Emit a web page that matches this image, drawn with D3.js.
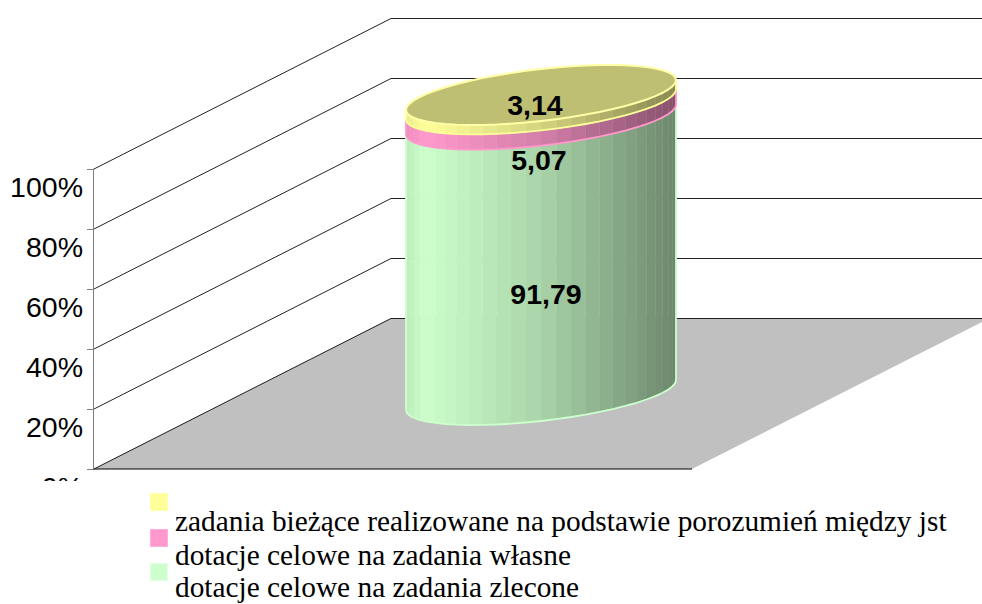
<!DOCTYPE html>
<html lang="pl"><head><meta charset="utf-8">
<style>html,body{margin:0;padding:0;background:#fff}svg{display:block}</style>
<script src="https://cdn.jsdelivr.net/npm/d3@7"></script></head><body>
<svg id="c" width="982" height="604"></svg>
<script>
const seriesNames = ["dotacje celowe na zadania zlecone","dotacje celowe na zadania własne","zadania bieżące realizowane na podstawie porozumień między jst"];
const seriesValues = [91.79, 5.07, 3.14];
const valueLabels = ["91,79","5,07","3,14"];
const seriesColors = ["#CCFFCC","#FF99CC","#FFFF99"];
const tickValues = [0,20,40,60,80,100];

const svg = d3.select("#c");
const y = d3.scaleLinear().domain([0,100]).range([469,169]);
const axisX = 93, depthX = 298, depthY = 151, wallW = 599;

// clip for the cut-off bottom tick label
const defs = svg.append("defs");
defs.append("clipPath").attr("id","plotClip").append("rect").attr("x",-200).attr("width",400).attr("height",481);

// floor
svg.append("polygon")
  .attr("points",[[axisX,y(0)],[axisX+wallW,y(0)],[axisX+wallW+depthX,y(0)-depthY],[axisX+depthX,y(0)-depthY]].join(" "))
  .attr("fill","#C0C0C0");
svg.append("line").attr("x1",axisX).attr("x2",axisX+wallW).attr("y1",y(0)).attr("y2",y(0)).attr("stroke","#000").attr("stroke-width",1);

// gridlines
const grid = svg.append("g").attr("fill","none").attr("stroke","#222").attr("stroke-width",1);
tickValues.forEach(v=>{
  grid.append("line").attr("x1",axisX).attr("y1",y(v)+.5).attr("x2",axisX+depthX).attr("y2",y(v)-depthY+.5);
  grid.append("line").attr("x1",axisX+depthX).attr("y1",y(v)-depthY+.5).attr("x2",982).attr("y2",y(v)-depthY+.5);
});

// axis
const axis = svg.append("g").attr("transform",`translate(${axisX},0)`).attr("clip-path","url(#plotClip)")
  .call(d3.axisLeft(y).tickValues(tickValues).tickFormat(d=>d+"%").tickSize(6).tickPadding(4).tickSizeOuter(0));
axis.selectAll("path,line").attr("stroke","#808080");
axis.selectAll("text").attr("font-family","'Liberation Sans',Arial,sans-serif").attr("font-size",28.5).attr("fill","#000").attr("dy","0.98em");

// cylinder
const cx = 541, rx = 135, ry = 26, tilt = 15, N = 28;
const scy = v => y(v)-74;
const pt = (t,cy)=>[cx+rx*Math.cos(t), cy+ry*Math.sin(t)-tilt*Math.cos(t)];
const shade = d3.scaleLinear().domain([406,425,541,676]).range([.93,1,.83,.53]);
const ts = d3.range(N+1).map(i=>Math.PI*i/N);
const stack = []; seriesValues.reduce((acc,v,i)=>{stack.push({i,v,from:acc,to:acc+v});return acc+v;},0);
const cyl = svg.append("g");
stack.forEach(s=>{
  const c0 = d3.rgb(seriesColors[s.i]);
  const yA = scy(s.from), yB = scy(s.to);
  for(let j=0;j<N;j++){
    const a=ts[j], b=ts[j+1];
    const m=(pt(a,0)[0]+pt(b,0)[0])/2, f=shade(m);
    cyl.append("polygon")
      .attr("points",[pt(a,yA),pt(b,yA),pt(b,yB),pt(a,yB)].join(" "))
      .attr("fill",d3.rgb(c0.r*f,c0.g*f,c0.b*f).formatHex())
      .attr("stroke",d3.rgb(c0.r*f,c0.g*f,c0.b*f).formatHex()).attr("stroke-width",.5);
  }
  // outline: sides and bottom edge
  const edge = ts.map(t=>pt(t,yA));
  cyl.append("polyline")
    .attr("points",[pt(0,yB),...edge,pt(Math.PI,yB)].join(" "))
    .attr("fill","none").attr("stroke",seriesColors[s.i]).attr("stroke-width",1.8);
});
// top face
const topCy = scy(d3.sum(seriesValues));
const topC = d3.rgb(seriesColors[2]);
cyl.append("polygon")
  .attr("points",d3.range(N*2).map(i=>pt(Math.PI*i/N,topCy)).join(" "))
  .attr("fill",d3.rgb(topC.r*.75,topC.g*.75,topC.b*.75).formatHex())
  .attr("stroke","#FFFFA8").attr("stroke-width",2);

// value labels
const labelNudge = [[5,37],[-2,48],[-6,5]];
svg.append("g").selectAll("text").data(stack).join("text")
  .attr("x",(d,i)=>cx+labelNudge[i][0])
  .attr("y",(d,i)=>scy((d.from+d.to)/2)+labelNudge[i][1])
  .attr("text-anchor","middle").attr("dominant-baseline","central")
  .attr("font-family","'Liberation Sans',Arial,sans-serif").attr("font-weight","bold").attr("font-size",28.5).attr("fill","#000")
  .text((d,i)=>valueLabels[i]);

// legend
const legendSwatchY = [493,529,563], legendTextY = [531,565,597];
const leg = svg.append("g");
[2,1,0].forEach((k,i)=>{
  leg.append("rect").attr("x",150.5).attr("y",legendSwatchY[i]+.5).attr("width",17).attr("height",17).attr("fill",seriesColors[k])
    .attr("stroke",d3.rgb(seriesColors[k]).brighter(.35).formatHex()).attr("stroke-width",1);
  leg.append("text").attr("x",175).attr("y",legendTextY[i])
    .attr("font-family","'Liberation Serif','Times New Roman',serif").attr("font-size",29.35).attr("fill","#000")
    .text(seriesNames[k]);
});
</script></body></html>
